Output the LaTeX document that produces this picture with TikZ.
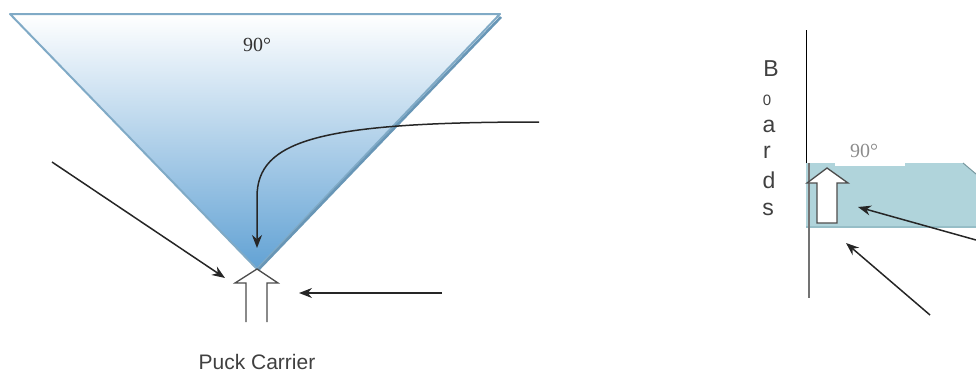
\documentclass[tikz,border=0pt]{standalone}
\usepackage{fontspec}
\setmainfont{Liberation Serif}
\newfontfamily\labelfont{Liberation Sans}
\usetikzlibrary{arrows.meta}

\definecolor{edgeblue}{RGB}{128,170,198}
\definecolor{darkedge}{RGB}{104,150,182}
\definecolor{deepblue}{RGB}{98,162,212}
\definecolor{paleblue}{RGB}{240,245,250}
\definecolor{boardteal}{RGB}{176,212,219}
\definecolor{darkteal}{RGB}{150,190,199}
\definecolor{textgray}{RGB}{64,64,64}

\tikzset{
  force/.style={line width=1.5pt, black!85, -{Stealth[length=13pt,width=10pt]}},
  blockarrow/.style={line width=1.3pt, draw=black!70, fill=white, line join=miter},
  lettertext/.style={font=\labelfont\fontsize{23}{23}\selectfont, text=textgray, anchor=base, inner sep=0pt}
}

\begin{document}
\begin{tikzpicture}[x=1pt,y=-1pt]
\useasboundingbox (0,0) rectangle (976,373);

% left side: the triangle in front of the carrier
\coordinate (TL) at (10,14);
\coordinate (TR) at (500,14);
\coordinate (A) at (257,269);

\shade[top color=white, middle color=paleblue, bottom color=deepblue] (TL) -- (TR) -- (A) -- cycle;
\draw[edgeblue, line width=2pt, line join=round] (TL) -- (TR) -- (A) -- cycle;
\draw[darkedge, line width=2.6pt] ([shift={(1,3)}]TR) -- ([shift={(1,1)}]A);

\node[font=\fontsize{20}{20}\selectfont, anchor=base, text=black!80, inner sep=0pt] (angleL) at (257,51) {90°};

% carrier
\filldraw[blockarrow] (246,322) -- (246,283) -- (235,283) -- (A) -- (278,283) -- (267,283) -- (267,322);
\node[font=\labelfont\fontsize{21}{21}\selectfont, text=textgray, anchor=base, inner sep=0pt] (carrier) at (257,369) {Puck Carrier};

% forces on the carrier
\coordinate (curvestart) at (539,122);
\coordinate (curvetip) at (257,248);
\draw[force] (curvestart) .. controls (320,122) and (257,140) .. (257,197) -- (curvetip);

\coordinate (leftstart) at (52,162);
\coordinate (lefttip) at (225,278);
\draw[force] (leftstart) -- (lefttip);

\coordinate (rightstart) at (442,293);
\coordinate (righttip) at (299,293);
\draw[force] (rightstart) -- (righttip);

% right side: along the boards
\fill[boardteal] (806,163) -- (963,163) -- (976,174) -- (976,227) -- (806,227) -- cycle;
\fill[white] (835,163) rectangle (905,166);
\draw[darkteal, line width=1.2pt] (806,227) -- (976,227);
\draw[darkteal!80!black, line width=1pt] (963,163) -- (976,174);

\draw[black, line width=1pt] (806,30) -- (806,163);
\draw[black!55, line width=1.2pt] (809,163) -- (809,298);

\node[font=\fontsize{20}{20}\selectfont, anchor=base, text=black!45, inner sep=0pt] (angleR) at (864,157) {90°};

\filldraw[blockarrow] (817,223) -- (817,183) -- (807,183) -- (827,168) -- (848,183) -- (837,183) -- (837,223) -- cycle;

\node[lettertext] (b1) at (771,76) {B};
\node[lettertext, font=\labelfont\fontsize{15}{15}\selectfont] (b2) at (767,105) {0};
\node[lettertext] (b3) at (769,132) {a};
\node[lettertext] (b4) at (767,158) {r};
\node[lettertext] (b5) at (769,188) {d};
\node[lettertext] (b6) at (768,215) {s};

\coordinate (boardstart) at (976,240);
\coordinate (boardtip) at (858,207);
\draw[force] (boardstart) -- (boardtip);

\coordinate (cornerstart) at (930,315);
\coordinate (cornertip) at (846,243);
\draw[force] (cornerstart) -- (cornertip);

\end{tikzpicture}
\end{document}
